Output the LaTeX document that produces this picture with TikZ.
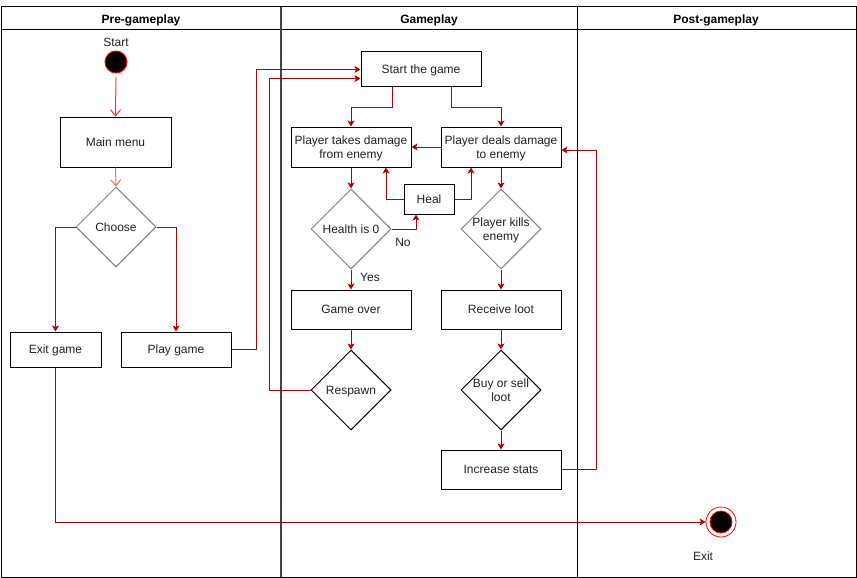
\documentclass[tikz,border=0pt]{standalone}
\usepackage{fontspec}
\setmainfont{Liberation Sans}
\usetikzlibrary{shapes.geometric,arrows.meta}
\definecolor{dred}{HTML}{B20000}
\definecolor{lred}{HTML}{FF3030}
\definecolor{pred}{HTML}{F06A6A}
\definecolor{txt}{HTML}{222222}
\definecolor{lanegray}{HTML}{444444}
\begin{document}
\begin{tikzpicture}[x=1pt,y=-1pt,line width=1pt,
  font=\fontsize{12}{14}\selectfont,
  box/.style={draw=black,fill=white,minimum width=120pt,minimum height=40pt,inner sep=0pt,text=txt,align=center,text depth=0pt},
  dia/.style={diamond,draw=#1,fill=white,minimum width=80pt,minimum height=80pt,inner sep=0pt,aspect=1},
  lbl/.style={text=txt,inner sep=0pt,align=center,text depth=0pt},
  hdr/.style={text=black,inner sep=0pt,text depth=0pt,font=\fontsize{12}{14}\selectfont\bfseries},
  arr/.style={draw=dred,-{Stealth[length=6pt,width=7pt,inset=1.5pt]}},
  openarr/.style={draw=#1,-{Straight Barb[length=6pt,width=10pt]}}]
\useasboundingbox (0,0) rectangle (857,578);
% swimlanes
\draw[black] (1,7) rectangle (856,577);
\draw[black] (1,30) -- (856,30);
\draw[lanegray,line width=1.6pt] (281,7) -- (281,577);
\draw[black] (577,7) -- (577,577);
\node[hdr] (h1) at (141,19.5) {Pre-gameplay};
\node[hdr] (h2) at (429,19.5) {Gameplay};
\node[hdr] (h3) at (716,19.5) {Post-gameplay};
% pre-gameplay
\node[circle,draw=red,fill=black,minimum size=22pt,inner sep=0pt] (start) at (116,62) {};
\node[lbl] (startl) at (116,42) {Start};
\node[box,minimum width=111pt,minimum height=50pt] (menu) at (115.5,142) {Main menu};
\node[dia=gray] (choose) at (116,227) {};
\node[lbl] at (choose) {Choose};
\node[box,minimum width=91pt,minimum height=35pt] (exitg) at (55.5,349.5) {Exit game};
\node[box,minimum width=110pt,minimum height=35pt] (play) at (176,349.5) {Play game};
% gameplay
\node[box,minimum height=35pt] (sg) at (421,69.5) {Start the game};
\node[box] (takes) at (351,147) {Player takes damage\\from enemy};
\node[box] (deals) at (501,147) {Player deals damage\\to enemy};
\node[box,minimum width=50pt,minimum height=30pt] (heal) at (429,199) {Heal};
\node[dia=gray] (health) at (351,229) {};
\node[lbl] at (health) {Health is 0};
\node[dia=gray] (kills) at (501,229) {};
\node[lbl] at (kills) {Player kills\\enemy};
\node[box,minimum height=39pt] (over) at (351,309.5) {Game over};
\node[box,minimum height=39pt] (loot) at (501,309.5) {Receive loot};
\node[dia=black] (resp) at (351,390) {};
\node[lbl] at (resp) {Respawn};
\node[dia=black] (buy) at (501,390) {};
\node[lbl] at (buy) {Buy or sell\\loot};
\node[box,minimum height=39pt] (inc) at (501,469.5) {Increase stats};
% post-gameplay
\node[circle,draw=red,fill=white,minimum size=30pt,inner sep=0pt,line width=0.8pt] (exitc) at (721,522) {};
\node[circle,draw=red,fill=black,minimum size=22pt,inner sep=0pt,line width=0.8pt] (exitin) at (721,522) {};
\node[lbl] (exitl) at (703,556) {Exit};
% connectors
\draw[openarr=lred,shorten <=4pt] (start.south) -- (menu.north);
\draw[openarr=pred] (menu.south) -- (choose.north);
\draw[arr] (choose.west) -| (exitg.north);
\draw[arr] (choose.east) -| (play.north);
\draw[arr] (play.east) -- ++(25,0) |- (sg.west);
\draw[arr] (resp.west) -- ++(-41,0) |- ([yshift=-9pt]sg.west);
\draw[arr] ([xshift=-29pt]sg.south) -- ++(0,20) -| (takes.north);
\draw[arr] ([xshift=30pt]sg.south) -- ++(0,20) -| (deals.north);
\draw[arr] (deals.west) -- (takes.east);
\draw[arr] (heal.west) -| ([xshift=35pt]takes.south);
\draw[arr] (heal.east) -| ([xshift=-30pt]deals.south);
\draw[arr] (takes.south) -- (health.north);
\draw[arr] (health.east) -| ([xshift=-13pt]heal.south);
\node[lbl] (nol) at (403,242) {No};
\draw[arr] (health.south) -- (over.north);
\node[lbl] (yesl) at (370,277) {Yes};
\draw[arr] (over.south) -- (resp.north);
\draw[arr] (deals.south) -- (kills.north);
\draw[arr] (kills.south) -- (loot.north);
\draw[arr] (loot.south) -- (buy.north);
\draw[arr] (buy.south) -- (inc.north);
\draw[arr] (inc.east) -- ++(35,0) |- ([yshift=-3pt]deals.east);
\draw[arr] (exitg.south) |- (exitc.west);
\end{tikzpicture}
\end{document}
